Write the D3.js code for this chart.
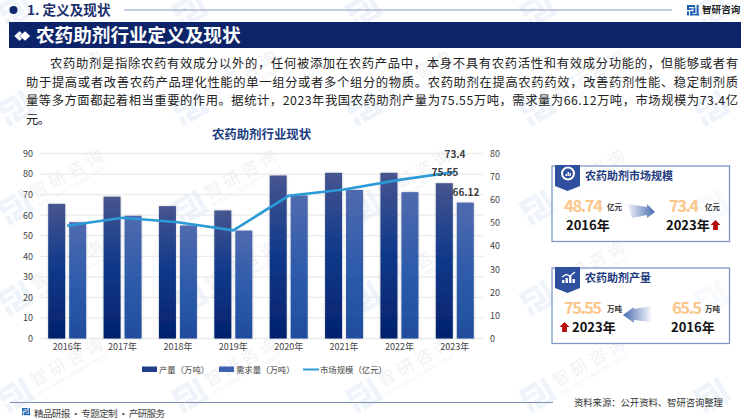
<!DOCTYPE html>
<html><head><meta charset="utf-8">
<script src="https://cdnjs.cloudflare.com/ajax/libs/d3/7.8.5/d3.min.js"></script>
<style>html,body{margin:0;padding:0;background:#fff}svg{display:block}text{font-family:"Noto Sans CJK SC","Noto Sans",sans-serif}</style>
</head><body><div id="c"></div>
<script>
const years=["2016年","2017年","2018年","2019年","2020年","2021年","2022年","2023年"];
const production=[65.5,69,64.4,62.3,79.3,80.6,80.6,75.55];
const demand=[56.6,59.7,55,52.5,69.6,72.3,71.2,66.12];
const marketSize=[48.74,52.2,50.3,46.8,61.7,64.4,68.6,72];
const leftTicks=[0,10,20,30,40,50,60,70,80,90];
const rightTicks=[0,10,20,30,40,50,60,70,80];
const seriesNames=["产量（万吨）","需求量（万吨）","市场规模（亿元）"];
const endLabels=["73.4","75.55","66.12"];
const bodyLines=[
"农药助剂是指除农药有效成分以外的，任何被添加在农药产品中，本身不具有农药活性和有效成分功能的，但能够或者有",
"助于提高或者改善农药产品理化性能的单一组分或者多个组分的物质。农药助剂在提高农药药效，改善药剂性能、稳定制剂质",
"量等多方面都起着相当重要的作用。据统计，2023年我国农药助剂产量为75.55万吨，需求量为66.12万吨，市场规模为73.4亿",
"元。"];

const svg=d3.select("#c").append("svg").attr("width",750).attr("height",420);
const defs=svg.append("defs");
function grad(id,stops,x2=0,y2=1){const g=defs.append("linearGradient").attr("id",id).attr("x1",0).attr("y1",0).attr("x2",x2).attr("y2",y2);
 stops.forEach(s=>g.append("stop").attr("offset",s[0]).attr("stop-color",s[1]).attr("stop-opacity",s[2]===undefined?1:s[2]));}
grad("b1",[[0,"#47558f"],[0.45,"#123b8b"],[1,"#03226d"]]);
grad("b2",[[0,"#506aae"],[0.5,"#2f5cab"],[1,"#204d9e"]]);
grad("arR",[[0,"#4a6cb0",0.05],[1,"#4568ad"]],1,0);
grad("arL",[[0,"#4568ad"],[1,"#4a6cb0",0.05]],1,0);
defs.append("filter").attr("id","sh").attr("x","-20%").attr("y","-5%").attr("width","140%").attr("height","110%")
 .append("feDropShadow").attr("dx",0).attr("dy",0).attr("stdDeviation",1).attr("flood-color","#000").attr("flood-opacity",.22);

/* watermark */
const wm=svg.append("g");
function logo(g,x,y,s,c){
 const p=[[0,0,10,2.5],[0,0,2.5,6],[0,4,7,2],[0,8,2.5,5],[4,8,2.5,5],[4,8,6,2],[8,3,2.5,7],[12,0,2.5,13],[4,11,11,2]];
 g.selectAll(null).data(p).join("rect").attr("x",d=>x+d[0]*s).attr("y",d=>y+d[1]*s).attr("width",d=>d[2]*s).attr("height",d=>d[3]*s).attr("fill",c);
}
[10,108,207,298,395].forEach((ry,ri)=>{[16,190,364,538,712].forEach((cx,ci)=>{
 const g=wm.append("g").attr("transform",`translate(${cx},${ry}) rotate(-30)`);
 logo(g,-15,-13,2,"#eef4fa");
 if(ri>0&&ci<4){
  g.append("text").attr("x",20).attr("y",3).attr("font-size",17).attr("letter-spacing",4).attr("fill","#f1f2f5").text("智研咨询");
  g.append("text").attr("x",20).attr("y",12).attr("font-size",5).attr("fill","#f1f2f5").text("INTELLIGENCE RESEARCH GROUP");
 }
});});

/* header */
svg.append("circle").attr("cx",13.5).attr("cy",10).attr("r",4).attr("fill","#12296b");
svg.append("text").attr("x",27).attr("y",15).attr("font-size",13.6).attr("font-weight",700).attr("fill","#1b2f6e").text("1. 定义及现状");
svg.append("line").attr("x1",124).attr("x2",672).attr("y1",10).attr("y2",10).attr("stroke","#8c9dc6").attr("stroke-width",1.2);
const lg=svg.append("g"); logo(lg,687,5,.8,"#1f5fb0");
svg.append("text").attr("x",702).attr("y",13).attr("font-size",9.6).attr("font-weight",700).attr("fill","#222").text("智研咨询");
svg.append("rect").attr("x",9).attr("y",22).attr("width",732).attr("height",26).attr("fill","#0d2568");
[[19.5,36],[25,36]].forEach(c=>svg.append("path").attr("d",`M${c[0]-5.5},${c[1]}L${c[0]},${c[1]-5}L${c[0]+5.5},${c[1]}L${c[0]},${c[1]+5}Z`).attr("fill","#fff").attr("stroke","#0d2568").attr("stroke-width",.5));
svg.append("text").attr("x",36).attr("y",42).attr("font-size",18.6).attr("font-weight",700).attr("fill","#fff").text("农药助剂行业定义及现状");

/* body */
const bx=[[50,738],[26,738],[26,738],[26,50]], by=[68,86.5,105,124];
bodyLines.forEach((t,i)=>svg.append("text").attr("x",bx[i][0]).attr("y",by[i]).attr("font-size",12.3).attr("fill","#222")
 .attr("textLength",bx[i][1]-bx[i][0]).attr("lengthAdjust","spacing").text(t));

/* chart */
svg.append("text").attr("x",261.5).attr("y",138.5).attr("text-anchor","middle").attr("font-size",12.4).attr("font-weight",700).attr("fill","#1a3b7e").text("农药助剂行业现状");
const x=d3.scaleBand().domain(years).range([39.5,482.5]).paddingInner(.314).paddingOuter(.157);
const xIn=d3.scaleBand().domain([0,1]).range([0,x.bandwidth()]).paddingInner(.19);
const yL=d3.scaleLinear().domain([0,90]).range([338.5,153.5]);
const yR=d3.scaleLinear().domain([0,80]).range([338.5,153.5]);
svg.append("g").selectAll("line").data(leftTicks).join("line").attr("x1",40).attr("x2",483).attr("y1",d=>yL(d)).attr("y2",d=>yL(d)).attr("stroke","#ebebeb").attr("stroke-width",1.3);
[production,demand].forEach((s,k)=>{
 svg.append("g").selectAll("rect").data(s).join("rect")
  .attr("x",(d,i)=>x(years[i])+xIn(k)).attr("width",xIn.bandwidth())
  .attr("y",d=>yL(d)).attr("height",d=>yL(0)-yL(d))
  .attr("fill",`url(#b${k+1})`).attr("filter","url(#sh)");
});
const line=d3.line().x((d,i)=>x(years[i])+x.bandwidth()/2).y(d=>yR(d));
svg.append("path").attr("d",line(marketSize)).attr("fill","none").attr("stroke","#2b9ad6").attr("stroke-width",2.6);

const axL=svg.append("g").attr("transform","translate(33,0)").call(d3.axisLeft(yL).tickValues(leftTicks).tickSize(0).tickPadding(0));
const axR=svg.append("g").attr("transform","translate(490,0)").call(d3.axisRight(yR).tickValues(rightTicks).tickSize(0).tickPadding(0));
const axB=svg.append("g").attr("transform","translate(0,344)").call(d3.axisBottom(x).tickSize(0).tickPadding(0));
[axL,axR,axB].forEach(a=>{a.select(".domain").remove();a.selectAll("text").attr("font-size",9).attr("fill","#444").style("font-family",'"Noto Sans CJK SC"');});

[[455,158,endLabels[0]],[445,175.5,endLabels[1]],[466,196,endLabels[2]]].forEach(d=>
 svg.append("text").attr("x",d[0]).attr("y",d[1]).attr("text-anchor","middle").attr("font-size",10).attr("font-weight",700).attr("fill","#404040").text(d[2]));

/* legend */
const leg=svg.append("g").attr("font-size",8.4);
[[142,"#1f3f8a"],[219,"#3c62ae"]].forEach(d=>leg.append("rect").attr("x",d[0]).attr("y",366.5).attr("width",15).attr("height",5.5).attr("fill",d[1]));
leg.append("line").attr("x1",303).attr("x2",319).attr("y1",369.5).attr("y2",369.5).attr("stroke","#2b9ad6").attr("stroke-width",2);
[[159,seriesNames[0]],[236,seriesNames[1]],[320,seriesNames[2]]].forEach(d=>leg.append("text").attr("x",d[0]).attr("y",372.5).attr("fill","#444").text(d[1]));

/* cards */
function card(y,h,title){
 svg.append("rect").attr("x",552).attr("y",y).attr("width",177.5).attr("height",h).attr("fill","#fff").attr("fill-opacity",.6).attr("stroke","#7f97c8").attr("stroke-width",1.3);
 svg.append("path").attr("d",`M555,${y-1}H580V${y+20}L567.5,${y+25}L555,${y+20}Z`).attr("fill","#2f4f9f");
 svg.append("text").attr("x",585).attr("y",y+14).attr("font-size",11).attr("font-weight",700).attr("fill","#1f3c80").text(title);
}
function num(x0,y0,t,w,u,ux){
 svg.append("text").attr("x",x0).attr("y",y0).attr("font-size",16.5).attr("font-weight",700).attr("fill","#fbc78c").attr("textLength",w).text(t);
 svg.append("text").attr("x",ux).attr("y",y0-2).attr("font-size",7.5).attr("font-weight",700).attr("fill","#333").text(u);
}
function yr(x0,y0,t){svg.append("text").attr("x",x0).attr("y",y0).attr("font-size",13).attr("font-weight",700).attr("fill","#111").text(t);}
function up(cx,y0){svg.append("path").attr("d",`M${cx},${y0}l5,5h-2.6v5h-4.8v-5h-2.6z`).attr("fill","#b80c0c");}

card(166,75.5,"农药助剂市场规模");
svg.append("circle").attr("cx",568).attr("cy",173.5).attr("r",6).attr("fill","none").attr("stroke","#fff").attr("stroke-width",2);
[[565.5,2],[567.5,4],[569.5,3]].forEach(d=>svg.append("rect").attr("x",d[0]).attr("y",176-d[1]).attr("width",1.4).attr("height",d[1]).attr("fill","#fff"));
num(564,212,"48.74",39,"亿元",607);
num(669,212,"73.4",30,"亿元",705);
yr(566,230,"2016年"); yr(666,230,"2023年"); up(715.5,220);
svg.append("path").attr("d","M627,204L647,207V204L655,212L647,218V215L632,218Z").attr("fill","url(#arR)");

card(268,75.5,"农药助剂产量");
[[562,3],[565.5,5],[569,7],[572.5,4]].forEach(d=>svg.append("rect").attr("x",d[0]).attr("y",283-d[1]).attr("width",2.4).attr("height",d[1]).attr("fill","#fff"));
svg.append("path").attr("d","M562,277L566,274.5L570,276L575,272").attr("fill","none").attr("stroke","#fff").attr("stroke-width",1.3);
num(564,313.5,"75.55",38,"万吨",607);
num(672,313.5,"65.5",30,"万吨",705);
yr(572,332,"2023年"); yr(671,332,"2016年"); up(564.5,322);
svg.append("path").attr("d","M651,306L634,309V307L623,315L634,323V320L651,322Z").attr("fill","url(#arL)");

/* footer */
svg.append("line").attr("x1",10).attr("x2",553).attr("y1",402.5).attr("y2",402.5).attr("stroke","#7b8fb5").attr("stroke-width",1.2);
const fl=svg.append("g"); logo(fl,22,408,.55,"#1f5fb0");
svg.append("text").attr("x",34).attr("y",416.5).attr("font-size",9.6).attr("fill","#444").attr("textLength",131).text("精品研报 · 专题定制 · 产研服务");
svg.append("text").attr("x",574).attr("y",406).attr("font-size",9.4).attr("fill","#333").attr("textLength",149).text("资料来源：公开资料、智研咨询整理");
</script></body></html>
